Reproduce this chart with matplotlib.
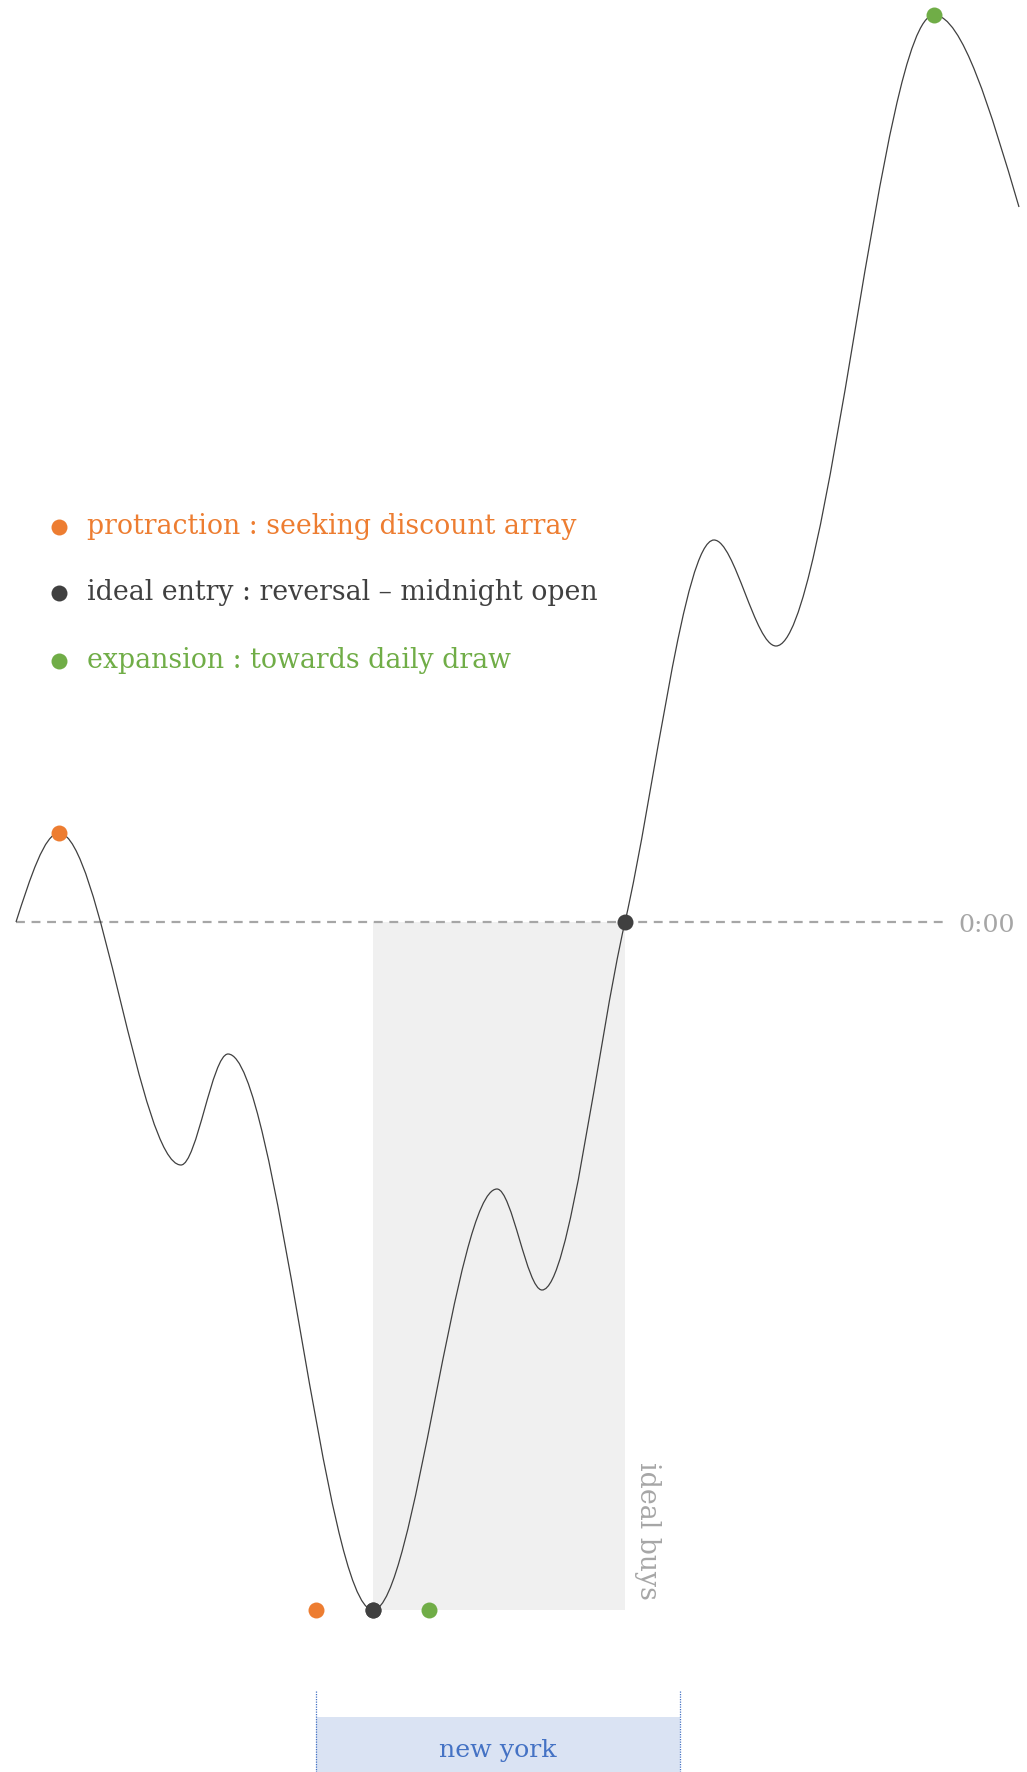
import numpy as np
import matplotlib
matplotlib.use("Agg")
import matplotlib.pyplot as plt
from matplotlib.path import Path
from matplotlib.patches import PathPatch, Rectangle

# ---- data ----
# time index (arbitrary units) and price relative to midnight open (0:00)
curve_x = [0.0, 4.3, 16.5, 21.2, 35.7, 48.1, 52.6, 60.9, 69.8, 76.0, 91.8, 100.3]
curve_y = [0.0, 8.9, -24.3, -13.2, -68.8, -26.7, -36.8, 0.0, 38.2, 27.6, 90.7, 71.5]

# marked points on the curve
pt_protraction = (4.3, 8.9)
pt_entry_low = (35.7, -68.8)
pt_entry_open = (60.9, 0.0)
pt_expansion = (91.8, 90.7)

# phase dots under the low
phase_x = [30.0, 35.7, 41.3]
phase_y = [-68.8, -68.8, -68.8]

ideal_buys_x = [35.7, 60.9]
ideal_buys_y = [-68.8, 0.0]
ny_session_x = [30.0, 66.4]

legend_labels = ["protraction : seeking discount array",
                 "ideal entry : reversal \u2013 midnight open",
                 "expansion : towards daily draw"]

ORANGE = "#ED7D31"
DARK = "#404040"
GREEN = "#70AD47"
BLUE = "#4472C4"
GREY = "#A6A6A6"
colors = [ORANGE, DARK, GREEN]

plt.rcParams['font.family'] = ['DejaVu Serif', 'Liberation Serif']

fig = plt.figure(figsize=(10.27, 17.72), dpi=100)
ax = fig.add_axes([0, 0, 1, 1])
ax.set_xlim(-1.6, 101.1)
ax.set_ylim(-85.0, 92.2)
ax.axis('off')


# monotone cubic (Steffen) tangents -> bezier path
def monotone_path(xs, ys):
    xs = np.asarray(xs, float)
    ys = np.asarray(ys, float)
    n = len(xs)
    h = np.diff(xs)
    s = np.diff(ys) / h
    t = np.zeros(n)
    for i in range(1, n - 1):
        p = (s[i - 1] * h[i] + s[i] * h[i - 1]) / (h[i - 1] + h[i])
        t[i] = (np.sign(s[i - 1]) + np.sign(s[i])) * min(abs(s[i - 1]), abs(s[i]), 0.5 * abs(p))
    t[0] = (3 * s[0] - t[1]) / 2
    t[-1] = (3 * s[-1] - t[-2]) / 2
    verts = [(xs[0], ys[0])]
    codes = [Path.MOVETO]
    for i in range(n - 1):
        dx = h[i] / 3
        verts += [(xs[i] + dx, ys[i] + dx * t[i]),
                  (xs[i + 1] - dx, ys[i + 1] - dx * t[i + 1]),
                  (xs[i + 1], ys[i + 1])]
        codes += [Path.CURVE4] * 3
    return Path(verts, codes)


FS = 19.3
FS_SMALL = 18.2

# ideal buys shaded region
ax.add_patch(Rectangle((ideal_buys_x[0], ideal_buys_y[0]),
                       ideal_buys_x[1] - ideal_buys_x[0],
                       ideal_buys_y[1] - ideal_buys_y[0],
                       facecolor="#F0F0F0", edgecolor="none", zorder=1))
ax.text(ideal_buys_x[1] + 2.2, -60.9, "ideal buys", rotation=-90,
        ha='center', va='center', fontsize=FS, color=GREY)

# midnight open line
ax.plot([curve_x[0], 92.7], [0, 0], ls=(0, (4, 3)), color=GREY, lw=1.6, zorder=2)
ax.text(94.2, -0.3, "0:00", ha='left', va='center', fontsize=FS_SMALL, color=GREY)

# price curve
ax.add_patch(PathPatch(monotone_path(curve_x, curve_y), facecolor='none',
                       edgecolor=DARK, lw=0.9, zorder=3))

ms = 11.5
for (px, py), c in [(pt_protraction, ORANGE), (pt_entry_low, DARK),
                    (pt_entry_open, DARK), (pt_expansion, GREEN)]:
    ax.plot(px, py, 'o', color=c, ms=ms, mec='none', zorder=5)
for px, py, c in zip(phase_x, phase_y, colors):
    ax.plot(px, py, 'o', color=c, ms=ms, mec='none', zorder=5)

# legend
leg_y = [39.5, 32.9, 26.1]
for ly, lab, c in zip(leg_y, legend_labels, colors):
    ax.plot(4.3, ly, 'o', color=c, ms=ms, mec='none')
    ax.text(7.1, ly, lab, ha='left', va='center', fontsize=FS, color=c)

# new york session
ax.add_patch(Rectangle((ny_session_x[0], -85.0), ny_session_x[1] - ny_session_x[0],
                       85.0 - 79.5, facecolor="#DAE3F3", edgecolor='none', zorder=1))
for nx in ny_session_x:
    ax.plot([nx, nx], [-76.9, -85.0], ls=(0, (1, 1)), color=BLUE, lw=0.9, zorder=2)
ax.text(sum(ny_session_x) / 2, -82.8, "new york", ha='center', va='center',
        fontsize=FS_SMALL, color=BLUE)

fig.savefig("out.png", dpi=100)
